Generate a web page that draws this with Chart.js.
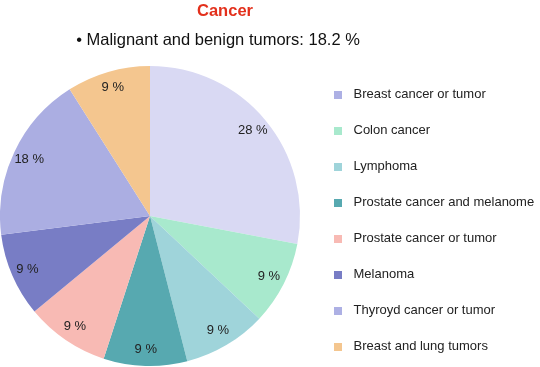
<!DOCTYPE html>
<html>
<head>
<meta charset="utf-8">
<script src="https://cdn.jsdelivr.net/npm/chart.js@4.4.1/dist/chart.umd.min.js"></script>
<style>
  body { margin: 0; background: #fff; }
  #contenedor { width: 540px; height: 367px; position: relative; }
</style>
</head>
<body>
<div id="contenedor"><canvas id="graficoCancer"></canvas></div>
<script>
const titulo = 'Cancer';
const subtitulo = '• Malignant and benign tumors: 18.2 %';

const etiquetas = [
  'Breast cancer or tumor',
  'Colon cancer',
  'Lymphoma',
  'Prostate cancer and melanome',
  'Prostate cancer or tumor',
  'Melanoma',
  'Thyroyd cancer or tumor',
  'Breast and lung tumors'
];
const porcentajes = [28, 9, 9, 9, 9, 9, 18, 9];

const coloresSector = ['#d9d9f3', '#a8e9cd', '#9fd4da', '#57a9b0', '#f8bab4', '#787dc5', '#abaee2', '#f4c68f'];
const coloresLeyenda = ['#adb0e4', '#a8e9cd', '#9fd4da', '#57a9b0', '#f8bab4', '#787dc5', '#adb0e4', '#f4c68f'];

const fuente = '"Liberation Sans", Arial, Helvetica, sans-serif';

// cuadrito de la leyenda, dibujado en un canvas pequeño
function cuadrito(color) {
  const c = document.createElement('canvas');
  c.width = 24;
  c.height = 8;
  const cx = c.getContext('2d');
  cx.fillStyle = color;
  cx.fillRect(11, 0, 8, 8);
  return c;
}

const cabecera = {
  id: 'cabecera',
  afterDraw(chart) {
    const ctx = chart.ctx;
    ctx.save();
    ctx.textAlign = 'center';
    ctx.textBaseline = 'alphabetic';
    ctx.fillStyle = '#e3301c';
    ctx.font = 'bold 16.5px ' + fuente;
    ctx.fillText(titulo, 225, 16);
    ctx.fillStyle = '#111';
    ctx.font = '16.5px ' + fuente;
    ctx.fillText(subtitulo, 218, 45);
    ctx.restore();
  }
};

const etiquetasSector = {
  id: 'etiquetasSector',
  afterDatasetsDraw(chart) {
    const ctx = chart.ctx;
    const meta = chart.getDatasetMeta(0);
    ctx.save();
    ctx.font = '13px ' + fuente;
    ctx.fillStyle = '#222';
    ctx.textAlign = 'center';
    ctx.textBaseline = 'middle';
    meta.data.forEach((arco, i) => {
      const p = arco.getProps(['x', 'y', 'startAngle', 'endAngle', 'outerRadius'], true);
      const medio = (p.startAngle + p.endAngle) / 2;
      const r = p.outerRadius * 0.89;
      ctx.fillText(porcentajes[i] + ' %', p.x + Math.cos(medio) * r, p.y + Math.sin(medio) * r);
    });
    ctx.restore();
  }
};

// la leyenda ocupa 240px y no parte en dos columnas
const anchoLeyenda = {
  id: 'anchoLeyenda',
  afterInit(chart) {
    const fitOriginal = chart.legend.fit;
    chart.legend.fit = function () {
      const alto = this.maxHeight;
      this.maxHeight = 400;
      fitOriginal.call(this);
      this.maxHeight = alto;
      this.height = alto;
      this.width = 240;
    };
  },
  afterLayout(chart) {
    chart.legend.bottom = chart.legend.top + 400;
  }
};

new Chart(document.getElementById('graficoCancer'), {
  type: 'pie',
  data: {
    labels: etiquetas,
    datasets: [{
      data: porcentajes,
      backgroundColor: coloresSector,
      borderWidth: 0
    }]
  },
  options: {
    responsive: true,
    maintainAspectRatio: false,
    animation: false,
    layout: { padding: { top: 65 } },
    plugins: {
      tooltip: { enabled: false },
      legend: {
        position: 'right',
        fullSize: false,
        align: 'start',
        labels: {
          usePointStyle: true,
          pointStyleWidth: 24,
          padding: 23,
          color: '#222',
          font: { size: 13, family: fuente },
          generateLabels(chart) {
            const items = Chart.overrides.pie.plugins.legend.labels.generateLabels(chart);
            return items.map((it, i) => Object.assign(it, { pointStyle: cuadrito(coloresLeyenda[i]) }));
          }
        }
      }
    }
  },
  plugins: [anchoLeyenda, etiquetasSector, cabecera]
});
</script>
</body>
</html>
